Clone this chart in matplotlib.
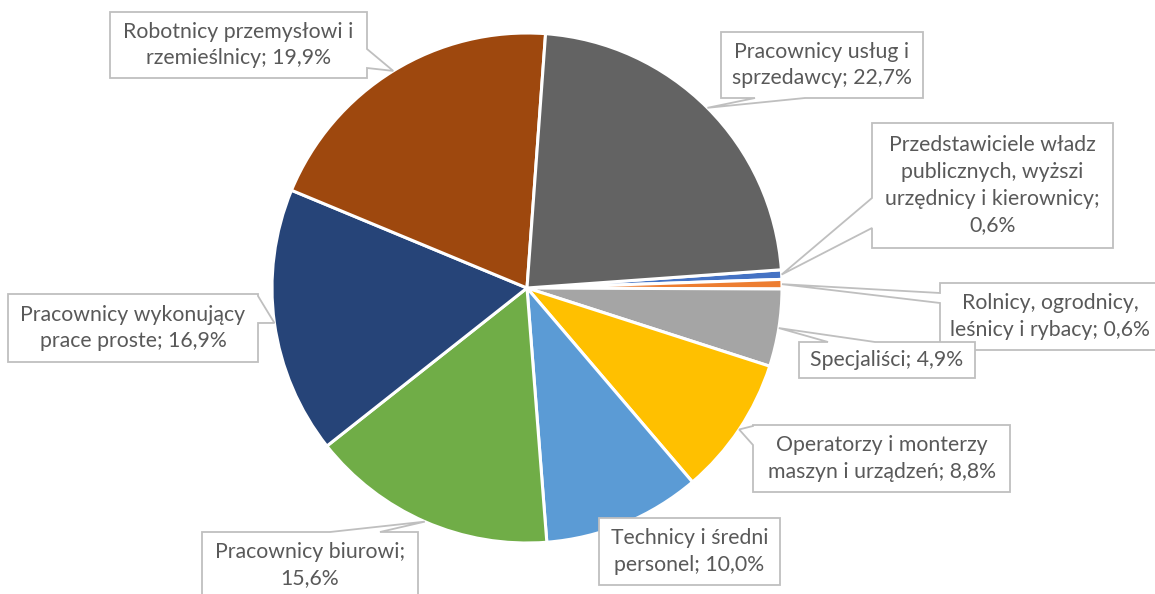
import matplotlib
matplotlib.use("Agg")
import matplotlib.pyplot as plt
import numpy as np
from matplotlib.patches import Polygon

# data (Excel series order)
labels = ["Przedstawiciele władz\npublicznych, wyższi\nurzędnicy i kierownicy;\n0,6%",
          "Rolnicy, ogrodnicy,\nleśnicy i rybacy; 0,6%",
          "Specjaliści; 4,9%",
          "Operatorzy i monterzy\nmaszyn i urządzeń; 8,8%",
          "Technicy i średni\npersonel; 10,0%",
          "Pracownicy biurowi;\n15,6%",
          "Pracownicy wykonujący\nprace proste; 16,9%",
          "Robotnicy przemysłowi i\nrzemieślnicy; 19,9%",
          "Pracownicy usług i\nsprzedawcy; 22,7%"]
values = [0.6, 0.6, 4.9, 8.8, 10.0, 15.6, 16.9, 19.9, 22.7]
colors = ["#4472C4", "#ED7D31", "#A5A5A5", "#FFC000", "#5B9BD5",
          "#70AD47", "#264478", "#9E480E", "#636363"]

# callout boxes in pixel coords: (x0, y0, x1, y1), side, pointer base
boxes = [
    ((872, 123, 1113, 248), "left", (198, 228)),
    ((940, 283, 1160, 350), "left", (293, 303)),
    ((799, 342, 975, 378), "top", (828, 875)),
    ((753, 425, 1010, 492), "left", (426, 445)),
    ((599, 518, 780, 585), None, None),
    ((202, 532, 418, 610), "top", (330, 380)),
    ((8, 294, 258, 362), "right", (296, 323)),
    ((110, 12, 367, 78), "right", (49, 68)),
    ((721, 32, 923, 98), "bottom", (755, 805)),
]

W, H = 1155, 594
fig = plt.figure(figsize=(W / 100, H / 100), dpi=100)
ax = fig.add_axes([0, 0, 1, 1])

cx, cy, R = 527, 288, 255
wedges, _ = ax.pie(values, colors=colors, startangle=-4.1, counterclock=True,
                   center=(cx, cy), radius=R, frame=True,
                   wedgeprops=dict(edgecolor="white", linewidth=2.2))
ax.set_xlim(0, W)
ax.set_ylim(H, 0)
ax.set_aspect("auto")
ax.axis("off")

edge = "#BFBFBF"
for w, lab, (bx, side, base) in zip(wedges, labels, boxes):
    mid = np.deg2rad((w.theta1 + w.theta2) / 2)
    tip = (cx + R * np.cos(mid), cy + R * np.sin(mid))
    x0, y0, x1, y1 = bx
    if side == "top":
        a, b = base
        pts = [(x0, y0), (a, y0), tip, (b, y0), (x1, y0), (x1, y1), (x0, y1)]
    elif side == "right":
        a, b = base
        pts = [(x0, y0), (x1, y0), (x1, a), tip, (x1, b), (x1, y1), (x0, y1)]
    elif side == "bottom":
        a, b = base
        pts = [(x0, y0), (x1, y0), (x1, y1), (b, y1), tip, (a, y1), (x0, y1)]
    elif side == "left":
        a, b = base
        pts = [(x0, y0), (x1, y0), (x1, y1), (x0, y1), (x0, b), tip, (x0, a)]
    else:
        pts = [(x0, y0), (x1, y0), (x1, y1), (x0, y1)]
    ax.add_patch(Polygon(pts, closed=True, facecolor="white", edgecolor=edge,
                         linewidth=1.3, zorder=3))
    ty = (y0 + y1) / 2
    if lab.startswith("Pracownicy biurowi"):
        ty = 565
    ax.text((x0 + x1) / 2, ty, lab, ha="center", va="center",
            fontsize=15.3, color="#595959", family="Lato", linespacing=1.42,
            zorder=4)

fig.savefig("out.png", dpi=100)
